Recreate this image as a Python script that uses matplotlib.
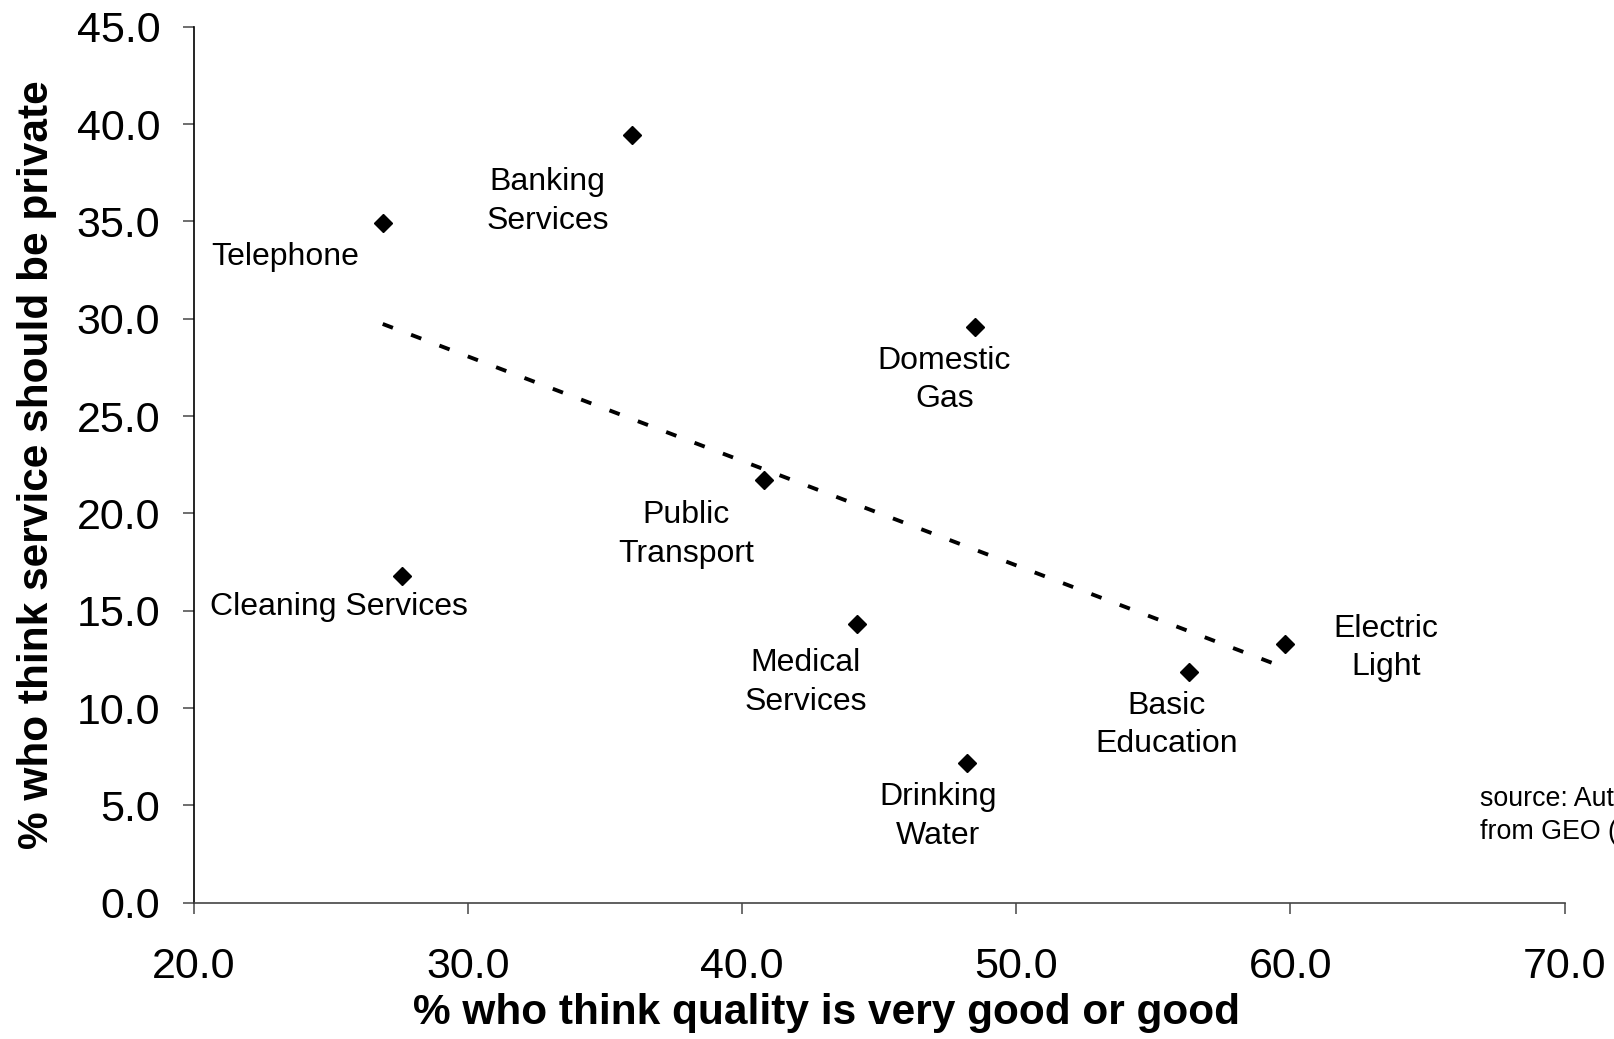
import numpy as np
import matplotlib
matplotlib.use("Agg")
import matplotlib.pyplot as plt

plt.rcParams['font.family'] = ['Liberation Sans', 'DejaVu Sans']

# services: quality rating (x) vs share wanting it private (y)
services = ['Telephone', 'Banking\nServices', 'Domestic\nGas', 'Public\nTransport',
            'Cleaning Services', 'Medical\nServices', 'Drinking\nWater',
            'Basic\nEducation', 'Electric\nLight']
quality = [26.9, 36.0, 48.5, 40.8, 27.6, 44.2, 48.2, 56.3, 59.8]
private = [34.9, 39.45, 29.6, 21.7, 16.8, 14.3, 7.2, 11.85, 13.3]

# label offsets (points) from each marker
offsets = [(-70, -24), (-61, -48), (-22, -38.5), (-56, -39), (-45, -22.5),
           (-37, -42), (-21, -39), (-16, -38), (73, -3)]

fig = plt.figure(figsize=(16.14, 10.39), dpi=100)
ax = fig.add_axes([0.1199, 0.1312, 0.8495, 0.8430])

ax.plot(quality, private, linestyle='none', marker='D', ms=9.5, color='black', zorder=3)

# linear trend line over the data range
k, b = np.polyfit(quality, private, 1)
xs = np.array([min(quality), max(quality)])
ax.plot(xs, k * xs + b, color='black', lw=2.8, dashes=(2.8, 5.0), dash_capstyle='butt')

for name, x, y, off in zip(services, quality, private, offsets):
    ax.annotate(name, (x, y), xytext=off, textcoords='offset points',
                ha='center', va='center', fontsize=23, linespacing=1.37)

ax.set_xlim(20, 70)
ax.set_ylim(0, 45)
ax.set_xticks(np.arange(20, 71, 10))
ax.set_yticks(np.arange(0, 46, 5))
ax.xaxis.set_major_formatter(matplotlib.ticker.FormatStrFormatter('%.1f'))
ax.yaxis.set_major_formatter(matplotlib.ticker.FormatStrFormatter('%.1f'))
ax.tick_params(axis='x', direction='out', length=8, width=1.2, pad=24, labelsize=31, color='#555555')
ax.tick_params(axis='y', direction='out', length=8, width=1.2, pad=16, labelsize=31, color='#555555')

for s in ['top', 'right']:
    ax.spines[s].set_visible(False)
ax.spines['left'].set_linewidth(1.2)
ax.spines['bottom'].set_linewidth(1.2)
ax.spines['bottom'].set_color('#444444')

ax.set_xlabel('% who think quality is very good or good', fontsize=30.5, fontweight='bold')
ax.xaxis.set_label_coords(0.462, -0.103)
ax.set_ylabel('% who think service should be private', fontsize=30.5, fontweight='bold')
ax.yaxis.set_label_coords(-0.0998, 0.5)

# source note runs off the right edge, as in the original
fig.text(0.9167, 0.215, 'source: Authors\' calculations\nfrom GEO (2003)', fontsize=19.3,
         va='center', ha='left', linespacing=1.36)

fig.savefig('out.png', dpi=100)
